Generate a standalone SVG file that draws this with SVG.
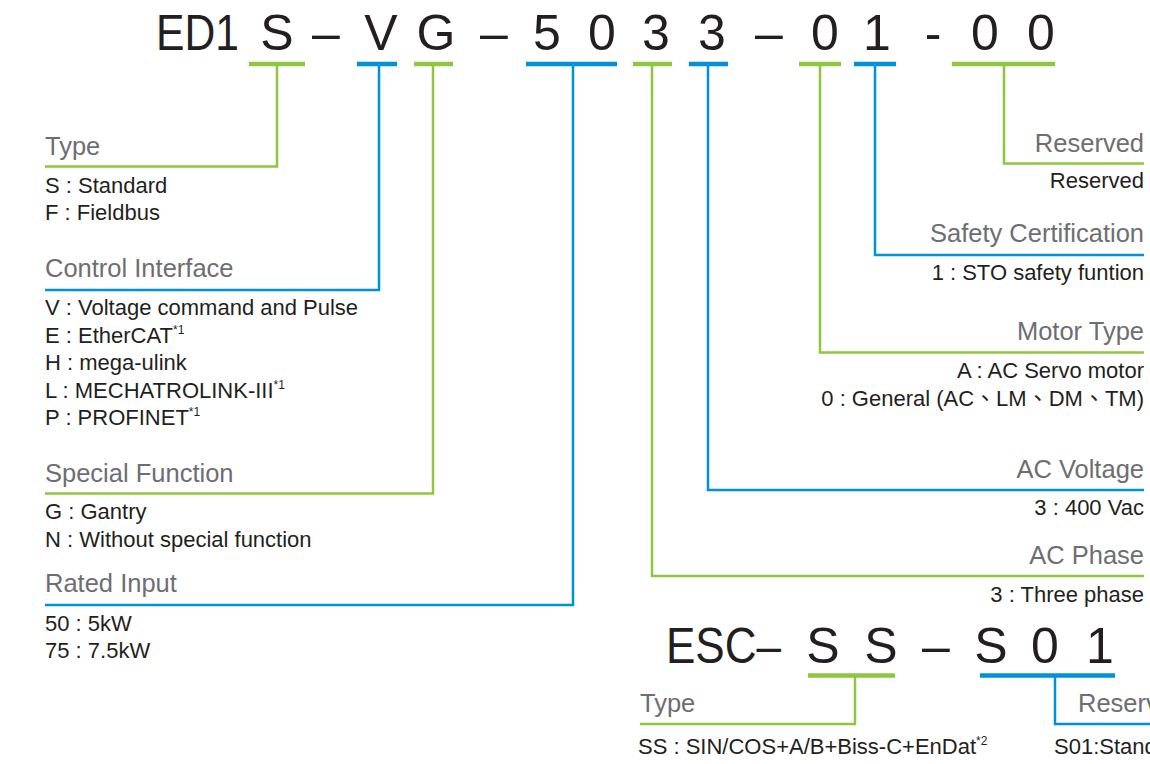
<svg xmlns="http://www.w3.org/2000/svg" width="1150" height="764" viewBox="0 0 1150 764">
<style>
text{font-family:"Liberation Sans",Arial,"Noto Sans CJK TC",sans-serif}
.code{font-size:50px;fill:#231f20;text-anchor:middle}
.h{font-size:25.5px;fill:#6d6e71}
.b{font-size:22px;fill:#231f20}
.r{text-anchor:end}
.sup{font-size:12px}
.g{stroke:#8dc63f;fill:none;stroke-width:2.5}
.bl{stroke:#0091da;fill:none;stroke-width:2.5}
.ul{stroke-width:4.5}
</style>
<rect width="1150" height="764" fill="#ffffff"/>
<g id="code-main">
<text class="code" x="156" y="50" style="text-anchor:start" textLength="83" lengthAdjust="spacingAndGlyphs">ED1</text>
<text class="code" x="277" y="50">S</text>
<text class="code" x="326" y="50">–</text>
<text class="code" x="381" y="50">V</text>
<text class="code" x="436" y="50">G</text>
<text class="code" x="494" y="50">–</text>
<text class="code" x="547" y="50">5</text>
<text class="code" x="602" y="50">0</text>
<text class="code" x="656" y="50">3</text>
<text class="code" x="712" y="50">3</text>
<text class="code" x="769" y="50">–</text>
<text class="code" x="825" y="50">0</text>
<text class="code" x="877" y="50">1</text>
<text class="code" x="933" y="50">-</text>
<text class="code" x="985" y="50">0</text>
<text class="code" x="1041" y="50">0</text>
</g>
<g id="code-esc">
<text class="code" x="666" y="663" style="text-anchor:start" textLength="115" lengthAdjust="spacingAndGlyphs">ESC–</text>
<text class="code" x="823" y="663">S</text>
<text class="code" x="881" y="663">S</text>
<text class="code" x="936" y="663">–</text>
<text class="code" x="991" y="663">S</text>
<text class="code" x="1045" y="663">0</text>
<text class="code" x="1100" y="663">1</text>
</g>
<g id="connectors">
<line class="g ul" x1="249" y1="64" x2="305" y2="64"/>
<line class="bl ul" x1="357" y1="64" x2="397" y2="64"/>
<line class="g ul" x1="414" y1="64" x2="453" y2="64"/>
<line class="bl ul" x1="526" y1="64" x2="617" y2="64"/>
<line class="g ul" x1="633" y1="64" x2="672" y2="64"/>
<line class="bl ul" x1="689" y1="64" x2="728" y2="64"/>
<line class="g ul" x1="799" y1="64" x2="841" y2="64"/>
<line class="bl ul" x1="854" y1="64" x2="896" y2="64"/>
<line class="g ul" x1="952" y1="64" x2="1055" y2="64"/>
<polyline class="g" points="277,64 277,166.5 45,166.5"/>
<polyline class="bl" points="379,64 379,290 45,290"/>
<polyline class="g" points="433,64 433,493.5 45,493.5"/>
<polyline class="bl" points="573,64 573,605 45,605"/>
<polyline class="g" points="652,64 652,576 1144,576"/>
<polyline class="bl" points="708,64 708,490 1144,490"/>
<polyline class="g" points="820,64 820,352.5 1144,352.5"/>
<polyline class="bl" points="875,64 875,255 1144,255"/>
<polyline class="g" points="1004,64 1004,163.5 1144,163.5"/>
<line class="g ul" x1="808" y1="675.5" x2="895" y2="675.5"/>
<line class="bl ul" x1="980" y1="675.5" x2="1115" y2="675.5"/>
<polyline class="g" points="855,675.5 855,724 640,724"/>
<polyline class="bl" points="1055,675.5 1055,724 1150,724"/>
</g>
<g id="type">
<text class="h" x="45" y="155">Type</text>
<text class="b" x="45" y="193">S : Standard</text>
<text class="b" x="45" y="220">F : Fieldbus</text>
</g>
<g id="control-interface">
<text class="h" x="45" y="277">Control Interface</text>
<text class="b" x="45" y="315">V : Voltage command and Pulse</text>
<text class="b" x="45" y="343">E : EtherCAT<tspan class="sup" dy="-9">*1</tspan></text>
<text class="b" x="45" y="370">H : mega-ulink</text>
<text class="b" x="45" y="398">L : MECHATROLINK-III<tspan class="sup" dy="-9">*1</tspan></text>
<text class="b" x="45" y="425">P : PROFINET<tspan class="sup" dy="-9">*1</tspan></text>
</g>
<g id="special-function">
<text class="h" x="45" y="482">Special Function</text>
<text class="b" x="45" y="519">G : Gantry</text>
<text class="b" x="45" y="547">N : Without special function</text>
</g>
<g id="rated-input">
<text class="h" x="45" y="592">Rated Input</text>
<text class="b" x="45" y="631">50 : 5kW</text>
<text class="b" x="45" y="658">75 : 7.5kW</text>
</g>
<g id="reserved">
<text class="h r" x="1144" y="152">Reserved</text>
<text class="b r" x="1144" y="188">Reserved</text>
</g>
<g id="safety-certification">
<text class="h r" x="1144" y="242">Safety Certification</text>
<text class="b r" x="1144" y="280">1 : STO safety funtion</text>
</g>
<g id="motor-type">
<text class="h r" x="1144" y="340">Motor Type</text>
<text class="b r" x="1144" y="378">A : AC Servo motor</text>
<text class="b r" x="1144" y="406">0 : General (AC、LM、DM、TM)</text>
</g>
<g id="ac-voltage">
<text class="h r" x="1144" y="478">AC Voltage</text>
<text class="b r" x="1144" y="515">3 : 400 Vac</text>
</g>
<g id="ac-phase">
<text class="h r" x="1144" y="564">AC Phase</text>
<text class="b r" x="1144" y="602">3 : Three phase</text>
</g>
<g id="esc-type">
<text class="h" x="640" y="712">Type</text>
<text class="b" x="638" y="754">SS : SIN/COS+A/B+Biss-C+EnDat<tspan class="sup" dy="-9">*2</tspan></text>
</g>
<g id="esc-reserved">
<text class="h" x="1078" y="712">Reserved</text>
<text class="b" x="1054" y="754">S01:Standard</text>
</g>
</svg>
